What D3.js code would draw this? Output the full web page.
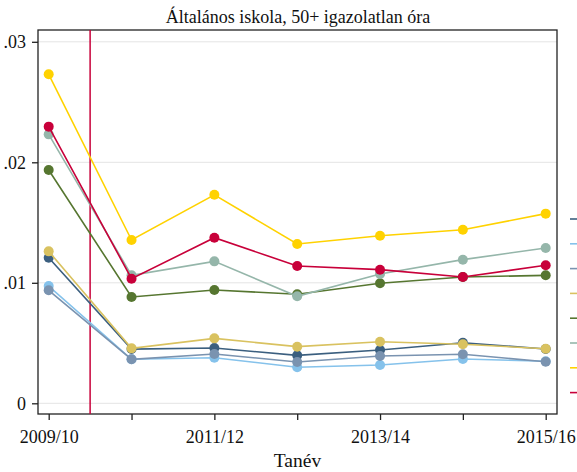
<!DOCTYPE html>
<html lang="hu">
<head>
<meta charset="utf-8">
<title>Általános iskola, 50+ igazolatlan óra</title>
<style>
body { margin: 0; background: #fff; }
svg text { font-family: "Liberation Serif", "Times New Roman", serif; fill: #111; }
.grid line { stroke: #e4e4e4; stroke-width: 1; }
.axis path, .axis line { stroke: #222; stroke-width: 1.3; fill: none; }
</style>
</head>
<body>
<div id="chart"></div>
<script src="https://d3js.org/d3.v7.min.js"></script>
<script>

var years = ["2009/10", "2010/11", "2011/12", "2012/13", "2013/14", "2014/15", "2015/16"];
var labelled = ["2009/10", "2011/12", "2013/14", "2015/16"];
var yTicks = [0, 0.01, 0.02, 0.03];
var cutYear = 0.5; // vertical line between 2009/10 and 2010/11

var colors = ["#3b5f7f", "#85c2eb", "#7a93b0", "#d9c260", "#567630", "#95b6aa", "#ffd200", "#c8003a"];

var s1 = [0.01208, 0.00450, 0.00459, 0.00398, 0.00442, 0.00503, 0.00450];
var s2 = [0.00973, 0.00365, 0.00378, 0.00299, 0.00318, 0.00368, 0.00349];
var s3 = [0.00938, 0.00365, 0.00409, 0.00343, 0.00393, 0.00407, 0.00345];
var s4 = [0.01261, 0.00456, 0.00539, 0.00470, 0.00511, 0.00490, 0.00453];
var s5 = [0.01936, 0.00882, 0.00940, 0.00905, 0.00996, 0.01048, 0.01062];
var s6 = [0.02232, 0.01062, 0.01178, 0.00888, 0.01073, 0.01192, 0.01289];
var s7 = [0.02730, 0.01355, 0.01730, 0.01322, 0.01390, 0.01440, 0.01574];
var s8 = [0.02296, 0.01034, 0.01374, 0.01140, 0.01109, 0.01048, 0.01145];
var series = [s1, s2, s3, s4, s5, s6, s7, s8];

var W = 577, H = 472;
var box = { left: 38, right: 557, top: 30, bottom: 414 };

var svg = d3.select('#chart').append('svg')
  .attr('width', W).attr('height', H);

var x = d3.scalePoint()
  .domain(years)
  .range([48.7, 545.7]);
var xi = d3.scaleLinear().domain([0, years.length - 1]).range(x.range());
var y = d3.scaleLinear()
  .domain([0, 0.03])
  .range([403.3, 41.8]);

// grid
svg.append('g').attr('class', 'grid')
  .selectAll('line').data(yTicks).enter().append('line')
  .attr('x1', box.left).attr('x2', box.right)
  .attr('y1', function(d) { return y(d); })
  .attr('y2', function(d) { return y(d); });

// frame
svg.append('rect')
  .attr('x', box.left).attr('y', box.top)
  .attr('width', box.right - box.left).attr('height', box.bottom - box.top)
  .attr('fill', 'none').attr('stroke', '#222').attr('stroke-width', 1.3);

// axes
var yAxis = svg.append('g').attr('class', 'axis')
  .attr('transform', 'translate(' + box.left + ',0)')
  .call(d3.axisLeft(y).tickValues(yTicks).tickSize(6).tickPadding(6)
    .tickFormat(function(d) { return d === 0 ? '0' : d3.format('.2f')(d).replace(/^0/, ''); }));
yAxis.select('.domain').remove();
yAxis.selectAll('text').style('font-size', '18px');

var xAxis = svg.append('g').attr('class', 'axis')
  .attr('transform', 'translate(0,' + box.bottom + ')')
  .call(d3.axisBottom(x).tickSize(6).tickPadding(10.5)
    .tickFormat(function(d) { return labelled.indexOf(d) >= 0 ? d : ''; }));
xAxis.select('.domain').remove();
xAxis.selectAll('text').style('font-size', '18px');

// vertical marker line
svg.append('line')
  .attr('x1', xi(cutYear)).attr('x2', xi(cutYear))
  .attr('y1', box.top).attr('y2', box.bottom)
  .attr('stroke', '#c8003a').attr('stroke-width', 1.5);

// series
var line = d3.line()
  .x(function(d, i) { return x(years[i]); })
  .y(function(d) { return y(d); });

series.forEach(function(s, k) {
  var g = svg.append('g');
  g.append('path').datum(s)
    .attr('d', line)
    .attr('fill', 'none')
    .attr('stroke', colors[k])
    .attr('stroke-width', 1.6);
  g.selectAll('circle').data(s).enter().append('circle')
    .attr('cx', function(d, i) { return x(years[i]); })
    .attr('cy', function(d) { return y(d); })
    .attr('r', 5)
    .attr('fill', colors[k]);
});

// legend keys (mostly outside the visible area)
svg.append('g').selectAll('line').data(colors).enter().append('line')
  .attr('x1', 570).attr('x2', 590)
  .attr('y1', function(d, i) { return 219 + i * 24.8; })
  .attr('y2', function(d, i) { return 219 + i * 24.8; })
  .attr('stroke', function(d) { return d; })
  .attr('stroke-width', 1.6);

// titles
svg.append('text')
  .attr('x', (box.left + box.right) / 2 + 0.5).attr('y', 23)
  .attr('text-anchor', 'middle')
  .style('font-size', '18px')
  .text('Általános iskola, 50+ igazolatlan óra');

svg.append('text')
  .attr('x', (box.left + box.right) / 2).attr('y', 467)
  .attr('text-anchor', 'middle')
  .style('font-size', '19.5px')
  .text('Tanév');
</script>
</body>
</html>
